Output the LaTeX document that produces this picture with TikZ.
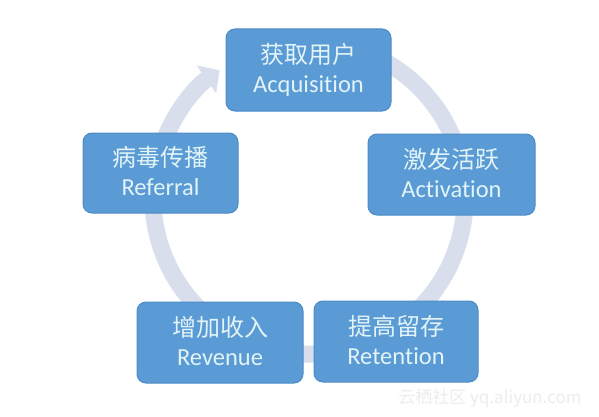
\documentclass[tikz,border=0pt]{standalone}
\usepackage{fontspec}
\setmainfont{Carlito}[Ligatures={NoCommon}]
\newfontfamily\cjk{Noto Sans CJK SC}
\usetikzlibrary{arrows.meta}
\definecolor{boxfill}{HTML}{5A9AD5}
\definecolor{boxline}{HTML}{4D8BC6}
\definecolor{ringc}{HTML}{D8DEEC}
\definecolor{txtc}{HTML}{E2F4F8}
\tikzset{
  stagebox/.style={draw=boxline, line width=1pt, fill=boxfill, rounded corners=9pt, minimum width=#1, inner sep=0pt},
  cjktxt/.style={anchor=base, text=txtc, font=\cjk\fontsize{24}{28}\selectfont, inner sep=0pt},
  lattxt/.style={anchor=base, text=txtc, font=\fontsize{24.5}{28}\selectfont, inner sep=0pt},
  ring/.style={draw=ringc, line width=17pt, -{Triangle[width=33pt,length=16pt]}},
}
\begin{document}
\begin{tikzpicture}[x=1pt,y=1pt]
\useasboundingbox (0,0) rectangle (599,416);
\fill[white] (0,0) rectangle (599,416);
\coordinate (ringc) at (309,218);
\draw[ring] (ringc) ++(70:156) arc[start angle=70, end angle=-235, radius=156];
% boxes
\node[stagebox=165pt, minimum height=82pt] (acq) at (308.5,346) {};
\node[stagebox=167pt, minimum height=81pt] (act) at (451.5,241.5) {};
\node[stagebox=164pt, minimum height=81pt] (ret) at (396,74.5) {};
\node[stagebox=166pt, minimum height=81pt] (rev) at (220,73.5) {};
\node[stagebox=155pt, minimum height=80pt] (ref) at (160.5,243) {};
% texts
\foreach \b/\c/\l in {acq/获取用户/Acquisition, act/激发活跃/Activation, ret/提高留存/Retention, rev/增加收入/Revenue, ref/病毒传播/Referral}{
  \node[cjktxt] (\b-c) at ([yshift=6.5pt]\b.center) {\c};
  \node[lattxt] (\b-l) at ([yshift=-22.7pt]\b.center) {\l};
}
\node[anchor=base, text=gray!14, font=\cjk\fontsize{17}{20}\selectfont, inner sep=0pt] (wm) at (490,13) {云栖社区 yq.aliyun.com};
\end{tikzpicture}
\end{document}
